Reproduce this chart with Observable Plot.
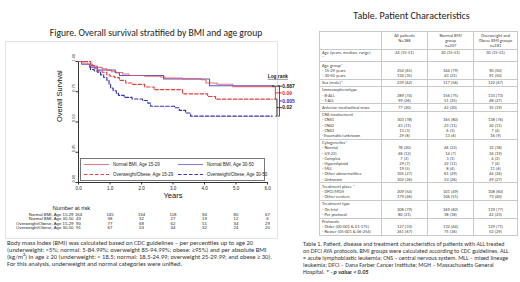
<!DOCTYPE html>
<html><head><meta charset="utf-8">
<script src="https://cdn.jsdelivr.net/npm/d3@7"></script>
<script src="https://cdn.jsdelivr.net/npm/@observablehq/plot@0.6"></script>
<style>
  html,body{margin:0;padding:0;background:#fff;}
  #page{position:relative;width:520px;height:282px;overflow:hidden;background:#fff;}
  .cal{font-family:"Carlito","Liberation Sans Narrow","Lato",sans-serif;color:#333;}
  .abs{position:absolute;white-space:nowrap;}
  table.pc{position:absolute;left:319px;top:31px;border-collapse:collapse;table-layout:fixed;
    font-size:4.5px;line-height:5.2px;color:#444;}
  table.pc td{border:1px solid #c9c9c9;padding:0.5px 2px;vertical-align:top;white-space:nowrap;overflow:hidden;}
  table.pc td.v{text-align:center;}
  table.pc tr.h td{text-align:center;}
</style></head>
<body><div id="page">
<div id="panel" style="position:absolute;left:5px;top:41px;width:271px;height:196px;border:1px solid #e2e2e2;"></div>
<div id="chart" style="position:absolute;left:0;top:0;"></div>
<div id="legend" style="position:absolute;left:80px;top:158px;width:183px;height:21px;border:1px solid #777;background:#fff;"></div>
</div>
<script>
// ---------- Figure data ----------
const figTitle = "Figure. Overall survival stratified by BMI and age group";
const groups = ["Normal BMI, Age 15-29", "Normal BMI, Age 30-50", "Overweight/Obese, Age 15-29", "Overweight/Obese, Age 30-50"];
const groupColors = ["#d9505c", "#5a55cf", "#e0413e", "#3333b0"];
const groupDash = [null, null, "3.5,2", "3.5,2"];

const tNormal1529 = [0, 0.15, 0.3, 0.45, 0.6, 0.75, 0.9, 1.05, 1.2, 1.4, 1.6, 2.1, 2.6, 2.75, 3.3, 3.9, 4.05, 4.4, 4.9, 6.15];
const sNormal1529 = [1, 0.988, 0.976, 0.963, 0.951, 0.939, 0.927, 0.915, 0.909, 0.897, 0.884, 0.878, 0.872, 0.862, 0.856, 0.849, 0.822, 0.812, 0.792, 0.792];
const tNormal3050 = [0, 0.1, 0.35, 0.6, 1.17, 1.3, 2.7, 4.16, 6.15];
const sNormal3050 = [1, 0.977, 0.953, 0.930, 0.907, 0.884, 0.855, 0.80, 0.80];
const tOver1529 = [0, 0.38, 0.5, 0.6, 0.75, 0.9, 1.0, 1.15, 1.3, 1.5, 1.7, 2.1, 2.4, 3.3, 4.1, 4.35, 6.15];
const sOver1529 = [1, 0.967, 0.944, 0.922, 0.911, 0.889, 0.878, 0.867, 0.844, 0.822, 0.811, 0.789, 0.767, 0.733, 0.711, 0.689, 0.689];
const tOver3050 = [0, 0.38, 0.5, 0.6, 0.7, 0.8, 0.9, 0.97, 1.02, 1.1, 1.2, 1.27, 1.45, 1.7, 2.03, 2.2, 2.29, 3.05, 3.2, 3.4, 3.56, 6.15];
const sOver3050 = [1, 0.934, 0.923, 0.912, 0.89, 0.868, 0.846, 0.813, 0.78, 0.758, 0.736, 0.72, 0.703, 0.69, 0.678, 0.656, 0.63, 0.618, 0.596, 0.574, 0.548, 0.548];

const yTicks = [0, 0.25, 0.5, 0.75, 1];
const riskTimes = [0, 1, 2, 3, 4, 5, 6];
const riskNormal1529 = [164, 145, 134, 118, 94, 80, 67];
const riskNormal3050 = [43, 38, 32, 27, 19, 12, 6];
const riskOver1529 = [90, 77, 68, 62, 51, 34, 29];
const riskOver3050 = [91, 67, 53, 44, 32, 24, 20];

const logRankPairs = [[0, 1], [0, 2], [2, 3], [1, 3]];
const logRankP = ["0.887", "0.09", "0.02", "0.005"];
const logRankColors = ["#222", "#e02a2a", "#222", "#2a2ad8"];

const figCaption = [
  "Body mass Index (BMI) was calculated based on CDC guidelines \u2013 per percentiles up to age 20",
  "(underweight: <5%; normal: 5-84.99%; overweight 85-94.99%; obese: \u226595%) and per absolute BMI",
  "(kg/m\u00b2) in age \u2265 20 (underweight: < 18.5;  normal: 18.5-24.99;  overweight 25-29.99;  and obese \u2265 30).",
  "For this analysis, underweight and normal categories were unified."
];

// ---------- Table data ----------
const tableTitle = "Table. Patient Characteristics";
const tableHeader = ["", "All patients<br>N=388", "Normal BMI<br>group<br>n=207", "Overweight and<br>Obese BMI groups<br>n=181"];
const tableLabels = [
  ["Age (years, median, range)", "*"],
  ["Age group*", "- 15-29 years", "- 30-50 years"],
  ["Sex (male)*"],
  ["Immunophenotype", "- B-ALL", "- T-ALL"],
  ["Anterior mediastinal mass"],
  ["CNS involvement", "- CNS1", "- CNS2", "- CNS3", "-Traumatic/unknown"],
  ["Cytogenetics*", "- Normal", "- t(9;22)", "- Complex", "- Hyperdiploid", "- MLL", "- Other abnormalities", "- Unknown"],
  ["Treatment place *", "- DFCI/MGH", "- Other centers"],
  ["Treatment type", "- On trial", "- Per protocol"],
  ["Protocols", "- Older (00-001 & 01-175)", "- Newer (05-001 & 06-254)"]
];
const colAll = [
  ["24 (15-51)", ""], ["", "254 (65)", "134 (35)"], ["239 (62)"], ["", "289 (74)", "99 (26)"], ["77 (20)"],
  ["", "303 (78)", "43 (11)", "13 (3)", "29 (8)"],
  ["", "78 (20)", "48 (12)", "7 (2)", "29 (7)", "19 (5)", "105 (27)", "102 (26)"],
  ["", "209 (54)", "179 (46)"], ["", "308 (79)", "80 (21)"], ["", "127 (33)", "261 (67)"]
];
const colNormal = [
  ["20 (15-51)", ""], ["", "164 (79)", "43 (21)"], ["117 (56)"], ["", "156 (75)", "51 (25)"], ["42 (20)"],
  ["", "165 (80)", "23 (11)", "6 (3)", "13 (6)"],
  ["", "46 (22)", "14 (7)", "3 (1)", "22 (11)", "8 (4)", "61 (29)", "53 (26)"],
  ["", "101 (49)", "106 (51)"], ["", "169 (82)", "38 (18)"], ["", "132 (64)", "75 (36)"]
];
const colOver = [
  ["30 (15-51)", ""], ["", "90 (50)", "91 (50)"], ["122 (67)"], ["", "133 (73)", "48 (27)"], ["35 (19)"],
  ["", "138 (76)", "20 (11)", "7 (4)", "16 (9)"],
  ["", "32 (18)", "34 (19)", "4 (2)", "7 (4)", "11 (6)", "44 (24)", "49 (27)"],
  ["", "108 (60)", "73 (40)"], ["", "139 (77)", "42 (23)"], ["", "129 (71)", "52 (29)"]
];
const tableCaption = [
  "Table 1. Patient, disease and treatment characteristics of patients with ALL treated",
  "on DFCI AYA protocols. BMI groups were calculated according to CDC guidelines. ALL",
  "= acute lymphoblastic leukemia; CNS \u2013 central nervous system. MLL \u2013 mixed lineage",
  "leukemia; DFCI \u2013 Dana Farber Cancer Institute; MGH \u2013 Massachusetts General",
  "Hospital.  "
];
const tableFootnote = "* - p value < 0.05";

// ---------- build figure ----------
const tSeries = [tNormal1529, tNormal3050, tOver1529, tOver3050];
const sSeries = [sNormal1529, sNormal3050, sOver1529, sOver3050];
const riskSeries = [riskNormal1529, riskNormal3050, riskOver1529, riskOver3050];
const rows = tSeries.map((ts, i) => ts.map((t, j) => ({t, s: sSeries[i][j], g: groups[i]})));
const ends = rows.map(r => r[r.length - 1]);

const drawOrder = [3, 2, 1, 0];
const lineMarks = drawOrder.map(i => Plot.line(rows[i], {
  x: "t", y: "s", curve: "step-after", stroke: groupColors[i], strokeWidth: 1.15,
  strokeDasharray: groupDash[i], strokeOpacity: i === 0 ? 0.8 : 1
}));

// log-rank brackets
const bx = [6.2, 6.25, 6.3, 6.38];
const segs = [];
const pLabels = [];
logRankPairs.forEach(([a, b], k) => {
  const ya = ends[a].s, yb = ends[b].s, x = bx[k], c = logRankColors[k];
  segs.push({x1: x, x2: x, y1: ya, y2: yb, c});
  segs.push({x1: x - 0.05, x2: x, y1: ya, y2: ya, c});
  segs.push({x1: x - 0.05, x2: x, y1: yb, y2: yb, c});
  segs.push({x1: x, x2: 6.46, y1: (ya + yb) / 2, y2: (ya + yb) / 2, c});
  pLabels.push({x: 6.47, y: (ya + yb) / 2, p: logRankP[k], c});
});

const riskMarks = riskSeries.map((r, i) => Plot.text(r, {
  x: (d, j) => riskTimes[j], text: d => String(d), frameAnchor: "bottom",
  dy: 33 + i * 4.6, fontSize: 4.3, fill: "#222"
}));
const riskLabelMarks = groups.map((g, i) => Plot.text([g], {
  frameAnchor: "bottom-left", dx: -5, dy: 33 + i * 4.6, textAnchor: "end", fontSize: 4.3, fill: "#222"
}));

const chart = Plot.plot({
  width: 520, height: 282,
  marginLeft: 78, marginRight: 253, marginTop: 61, marginBottom: 100,
  x: {domain: [0, 6], label: null},
  y: {domain: [0, 1], label: null},
  style: {background: "transparent", fontFamily: "Liberation Sans, Arial, sans-serif", color: "#222"},
  marks: [
    Plot.axisX({ticks: riskTimes, tickSize: 2.5, tickPadding: 1.5, fontSize: 4.5, label: null, stroke: "#333"}),
    Plot.axisY({ticks: yTicks, tickSize: 2.5, tickFormat: () => "", label: null, stroke: "#333"}),
    Plot.text(yTicks, {frameAnchor: "left", y: d => d, text: d => d3.format(".2f")(d), rotate: -90, dx: -4, lineAnchor: "bottom", fontSize: 4, fill: "#222"}),
    Plot.ruleX([0], {stroke: "#333", strokeWidth: 1}),
    Plot.ruleY([0], {stroke: "#333", strokeWidth: 1}),
    ...lineMarks,
    Plot.link(segs, {x1: "x1", x2: "x2", y1: "y1", y2: "y2", stroke: "c", strokeWidth: 0.9}),
    Plot.text(pLabels, {x: "x", y: "y", text: "p", fill: "c", textAnchor: "start", fontSize: 5, fontWeight: "bold"}),
    Plot.text(["Log rank"], {frameAnchor: "top-right", dx: 20.5, dy: 13, fontSize: 4.8, fontWeight: "bold", fill: "#222"}),
    Plot.text(["Overall Survival"], {frameAnchor: "left", rotate: -90, dx: -18.5, fontSize: 7.4, fill: "#111"}),
    Plot.text(["Years"], {frameAnchor: "bottom", dy: 15, fontSize: 7.6, fill: "#111"}),
    Plot.text(["Number at risk"], {frameAnchor: "bottom-left", dx: -26, dy: 27, fontSize: 5.8, fill: "#222"}),
    ...riskLabelMarks,
    ...riskMarks
  ]
});
d3.select(chart).selectAll("text").filter(function(){ return this.textContent === "Log rank"; })
  .style("text-decoration", "underline");
document.getElementById("chart").appendChild(chart);

// legend
const leg = d3.select("#legend");
groups.forEach((g, i) => {
  const col = i % 2, row = Math.floor(i / 2);
  const item = leg.append("div").attr("class", "abs")
    .style("left", (2 + col * 94) + "px").style("top", (2 + row * 10) + "px")
    .style("font", "4.5px 'Liberation Sans', Arial, sans-serif").style("color", "#222")
    .style("line-height", "7px").style("display", "flex").style("align-items", "center");
  const sv = item.append("svg").attr("width", 27).attr("height", 7).style("margin-right", "3px");
  sv.append("line").attr("x1", 1).attr("x2", 26).attr("y1", 3.5).attr("y2", 3.5)
    .attr("stroke", groupColors[i]).attr("stroke-width", 1.1).attr("stroke-opacity", i < 2 ? 0.75 : 1)
    .attr("stroke-dasharray", groupDash[i]);
  item.append("span").text(g);
});

const page = d3.select("#page");
page.append("div").attr("class", "abs cal").text(figTitle)
  .style("left", "20px").style("width", "272px").style("text-align", "center")
  .style("top", "27px").style("font-size", "9.6px").style("color", "#222");
figCaption.forEach((l, i) => {
  page.append("div").attr("class", "abs cal").text(l)
    .style("left", "7px").style("top", (239.5 + i * 7.3) + "px").style("font-size", "6.5px").style("line-height", "7px");
});

// table
page.append("div").attr("class", "abs cal").text(tableTitle)
  .style("left", "305px").style("width", "213px").style("text-align", "center")
  .style("top", "9px").style("font-size", "10px").style("color", "#222");
const tbl = page.append("table").attr("class", "pc cal");
const cg = tbl.append("colgroup");
[62, 46, 46, 44].forEach(w => cg.append("col").style("width", w + "px"));
const hr = tbl.append("tr").attr("class", "h");
tableHeader.forEach(h => hr.append("td").html(h));
tableLabels.forEach((lab, i) => {
  const tr = tbl.append("tr");
  tr.append("td").html(lab.join("<br>"));
  [colAll, colNormal, colOver].forEach(c => tr.append("td").attr("class", "v").html(c[i].map(v => v || "&nbsp;").join("<br>")));
});
tableCaption.forEach((l, i) => {
  const d = page.append("div").attr("class", "abs cal")
    .style("left", "303px").style("top", (240.5 + i * 7) + "px").style("font-size", "6.05px").style("line-height", "7px");
  d.append("span").text(l);
  if (i === tableCaption.length - 1) d.append("b").append("i").text(tableFootnote);
});
</script>
</body></html>
